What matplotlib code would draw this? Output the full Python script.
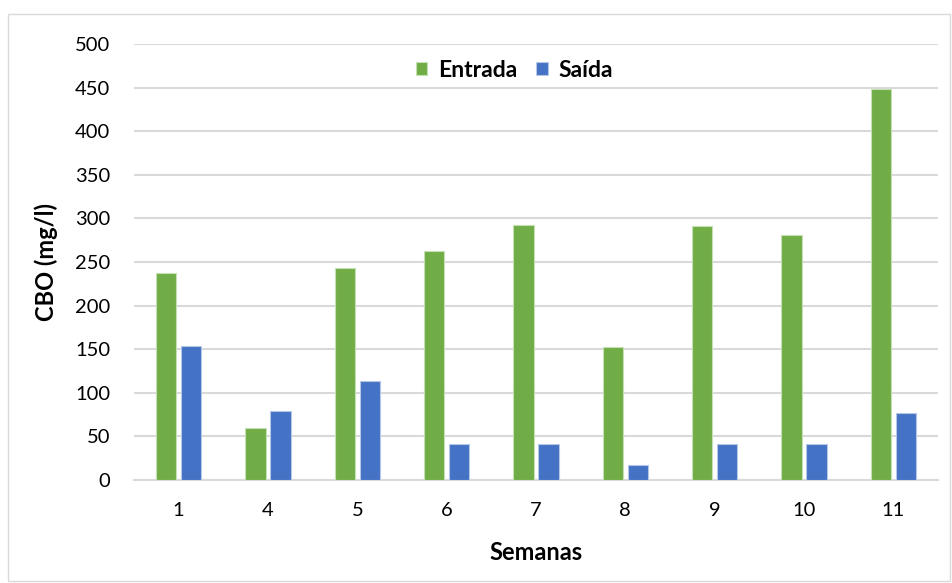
import numpy as np
import matplotlib.pyplot as plt
from matplotlib.patches import Rectangle

# Weekly CBO values
semanas = ["1", "4", "5", "6", "7", "8", "9", "10", "11"]
entrada = [237, 60, 243, 263, 293, 152, 291, 281, 448]
saida = [154, 79, 114, 41, 41, 17, 41, 41, 77]

plt.rcParams["font.family"] = ["Lato", "DejaVu Sans"]

fig = plt.figure(figsize=(9.52, 5.83), dpi=100)
ax = fig.add_axes([134 / 952, 1 - 480 / 583, 804 / 952, 436 / 583])

x = np.arange(len(semanas))
w = 0.225
ax.bar(x - 0.14, entrada, w, color="#70AD47", edgecolor="#C5E0B4", linewidth=0.8, label="Entrada", zorder=3)
ax.bar(x + 0.14, saida, w, color="#4472C4", edgecolor="#B4C7E7", linewidth=0.8, label="Saída", zorder=3)

ax.set_xlim(-0.5, len(semanas) - 0.5)
ax.set_ylim(0, 500)
ax.set_yticks(np.arange(0, 501, 50))
ax.set_xticks(x)
ax.set_xticklabels(semanas)
ax.grid(axis="y", color="#D9D9D9", linewidth=1.5, zorder=0)
for s in ["top", "right", "left"]:
    ax.spines[s].set_visible(False)
ax.spines["bottom"].set_color("#D9D9D9")
ax.spines["bottom"].set_linewidth(1.5)
ax.tick_params(length=0, labelsize=14.5, colors="black")
ax.tick_params(axis="x", pad=16)
ax.tick_params(axis="y", pad=17)

ax.set_ylabel("CBO (mg/l)", fontsize=17, fontweight="bold", labelpad=12)
ax.set_xlabel("Semanas", fontsize=17, fontweight="bold", labelpad=16)

leg = ax.legend(loc="center", bbox_to_anchor=(0.473, 0.94), ncol=2, frameon=False,
                prop={"size": 16.5, "weight": "bold"}, handlelength=0.5, handleheight=0.5,
                columnspacing=0.85, handletextpad=0.45)

# outer chart border
fig.patches.append(Rectangle((8 / 952, 2 / 583), 942 / 952, 567 / 583, transform=fig.transFigure,
                             fill=False, edgecolor="#D9D9D9", linewidth=1))

fig.savefig("out.png", dpi=100)
